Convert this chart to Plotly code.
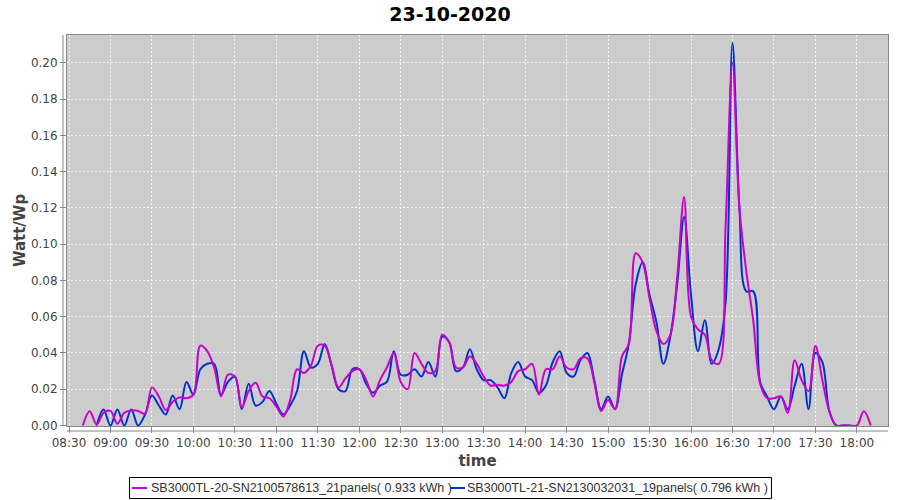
import pandas as pd
import plotly.graph_objects as go

# 5-minute samples starting 08:30
times = pd.date_range("2020-10-23 08:30", periods=117, freq="5min")

name_a = "SB3000TL-20-SN2100578613_21panels( 0.933 kWh )"
name_b = "SB3000TL-21-SN2130032031_19panels( 0.796 kWh )"

vals_a = [None, None, 0.0, 0.0079, 0.0005, 0.007, 0.008, 0.001, 0.007, 0.0083,
          0.008, 0.0065, 0.021, 0.016, 0.0085, 0.013, 0.0155, 0.015, 0.017, 0.044,
          0.041, 0.032, 0.016, 0.028, 0.027, 0.010, 0.019, 0.0235, 0.016, 0.015,
          0.0105, 0.005, 0.014, 0.031, 0.029, 0.033, 0.044, 0.044, 0.033, 0.021,
          0.026, 0.030, 0.031, 0.025, 0.016, 0.025, 0.032, 0.040, 0.024, 0.020,
          0.040, 0.034, 0.029, 0.030, 0.050, 0.046, 0.032, 0.032, 0.038, 0.034,
          0.027, 0.022, 0.0225, 0.022, 0.024, 0.030, 0.031, 0.034, 0.017, 0.031,
          0.031, 0.038, 0.032, 0.031, 0.037, 0.037, 0.024, 0.008, 0.014, 0.009,
          0.038, 0.045, 0.095, 0.090, 0.070, 0.052, 0.045, 0.050, 0.082, 0.126,
          0.060, 0.053, 0.050, 0.036, 0.034, 0.110, 0.200, 0.120, 0.085, 0.058,
          0.023, 0.015, 0.015, 0.016, 0.007, 0.036, 0.025, 0.019, 0.044, 0.025,
          0.008, 0.0, 0.0, 0.0, 0.0, 0.0078, 0.0]

vals_b = [None, None, None, None, 0.0, 0.0088, 0.0, 0.0088, 0.0, 0.0088,
          0.0, 0.006, 0.0165, 0.011, 0.006, 0.0165, 0.009, 0.024, 0.017, 0.031,
          0.034, 0.034, 0.017, 0.024, 0.027, 0.009, 0.023, 0.011, 0.013, 0.019,
          0.012, 0.006, 0.011, 0.019, 0.041, 0.032, 0.034, 0.045, 0.033, 0.020,
          0.019, 0.031, 0.031, 0.023, 0.018, 0.022, 0.024, 0.041, 0.028, 0.028,
          0.031, 0.027, 0.035, 0.027, 0.049, 0.046, 0.030, 0.032, 0.042, 0.031,
          0.025, 0.025, 0.021, 0.015, 0.029, 0.035, 0.027, 0.025, 0.018, 0.022,
          0.035, 0.041, 0.029, 0.027, 0.036, 0.040, 0.025, 0.009, 0.016, 0.009,
          0.028, 0.045, 0.078, 0.090, 0.072, 0.057, 0.034, 0.049, 0.078, 0.115,
          0.072, 0.041, 0.058, 0.034, 0.042, 0.068, 0.211, 0.120, 0.074, 0.074,
          0.024, 0.016, 0.009, 0.016, 0.009, 0.022, 0.034, 0.009, 0.040, 0.035,
          0.008, 0.0, 0.0, 0.0, None, None, None]

y_ticks = [0.00, 0.02, 0.04, 0.06, 0.08, 0.10, 0.12, 0.14, 0.16, 0.18, 0.20]

col_a = "#CC00CC"
col_b = "#0033CC"
font = "DejaVu Sans"

W, H = 900, 500
L, R, T, B = 67, 12, 35, 74
PW, PH = W - L - R, H - T - B


def px(x):
    return (x - L) / PW


def py(y):
    return (H - B - y) / PH


fig = go.Figure()
fig.add_trace(go.Scatter(x=times, y=vals_b, name=name_b, mode="lines",
                         line=dict(color=col_b, width=2, shape="spline", smoothing=1.0),
                         connectgaps=False))
fig.add_trace(go.Scatter(x=times, y=vals_a, name=name_a, mode="lines",
                         line=dict(color=col_a, width=2, shape="spline", smoothing=1.0),
                         connectgaps=False))

fig.update_layout(
    width=W, height=H,
    margin=dict(l=L, r=R, t=T, b=B, autoexpand=False),
    paper_bgcolor="white",
    plot_bgcolor="#CCCCCC",
    font=dict(family=font, size=12, color="#444444"),
    title=dict(text="<b>23-10-2020</b>", x=0.5, xanchor="center", xref="container",
               y=1 - 14 / H, yanchor="middle", yref="container",
               font=dict(family=font, size=19, color="black")),
    showlegend=False,
)

fig.update_xaxes(
    type="date", automargin=False,
    range=["2020-10-23 08:28:33", "2020-10-23 18:22:30"],
    dtick=30 * 60 * 1000, tick0="2020-10-23 08:30", tickformat="%H:%M",
    showgrid=True, gridcolor="#F4F4F4", griddash="2px,2px", gridwidth=1,
    showline=True, linecolor="#888888", linewidth=1, mirror=True,
    ticks="outside", ticklen=6, tickcolor="#888888",
    tickfont=dict(family=font, size=12, color="#444444"),
    title=dict(text="<b>time</b>", font=dict(family=font, size=15, color="#444444"), standoff=6),
    zeroline=False,
)
fig.update_yaxes(
    automargin=False,
    range=[-0.0003, 0.2154],
    tickvals=y_ticks, ticktext=[f"{v:.2f}" for v in y_ticks],
    showgrid=True, gridcolor="#F4F4F4", griddash="2px,2px", gridwidth=1,
    showline=True, linecolor="#888888", linewidth=1, mirror=True,
    ticks="outside", ticklen=6, tickcolor="#888888",
    tickfont=dict(family=font, size=12, color="#444444"),
    title=dict(text="<b>Watt/Wp</b>", font=dict(family=font, size=15, color="#444444"), standoff=1),
    zeroline=False,
)

# offset axis lines (JFreeChart style)
fig.add_shape(type="line", xref="paper", yref="paper", x0=px(63), x1=px(63), y0=0, y1=1,
              line=dict(color="#888888", width=1))
fig.add_shape(type="line", xref="paper", yref="paper", x0=0, x1=1, y0=py(431), y1=py(431),
              line=dict(color="#888888", width=1))

# legend box built from shapes and text
fig.add_shape(type="rect", xref="paper", yref="paper", x0=px(129.5), x1=px(771.5),
              y0=py(498.5), y1=py(477.5), line=dict(color="black", width=1),
              fillcolor="white")
legend_items = [(name_a, col_a, 132, 148.5), (name_b, col_b, 450, 465)]
for label, col, sx, tx in legend_items:
    fig.add_shape(type="line", xref="paper", yref="paper", x0=px(sx), x1=px(sx + 15),
                  y0=py(488), y1=py(488), line=dict(color=col, width=2))
    fig.add_annotation(text=label, xref="paper", yref="paper", x=px(tx), y=py(488),
                       xanchor="left", yanchor="middle", showarrow=False,
                       font=dict(family="Liberation Sans", size=12.5, color="#333333"))

fig.write_html("out.html", config={"displayModeBar": False},
               post_script="document.body.style.margin='0';")
